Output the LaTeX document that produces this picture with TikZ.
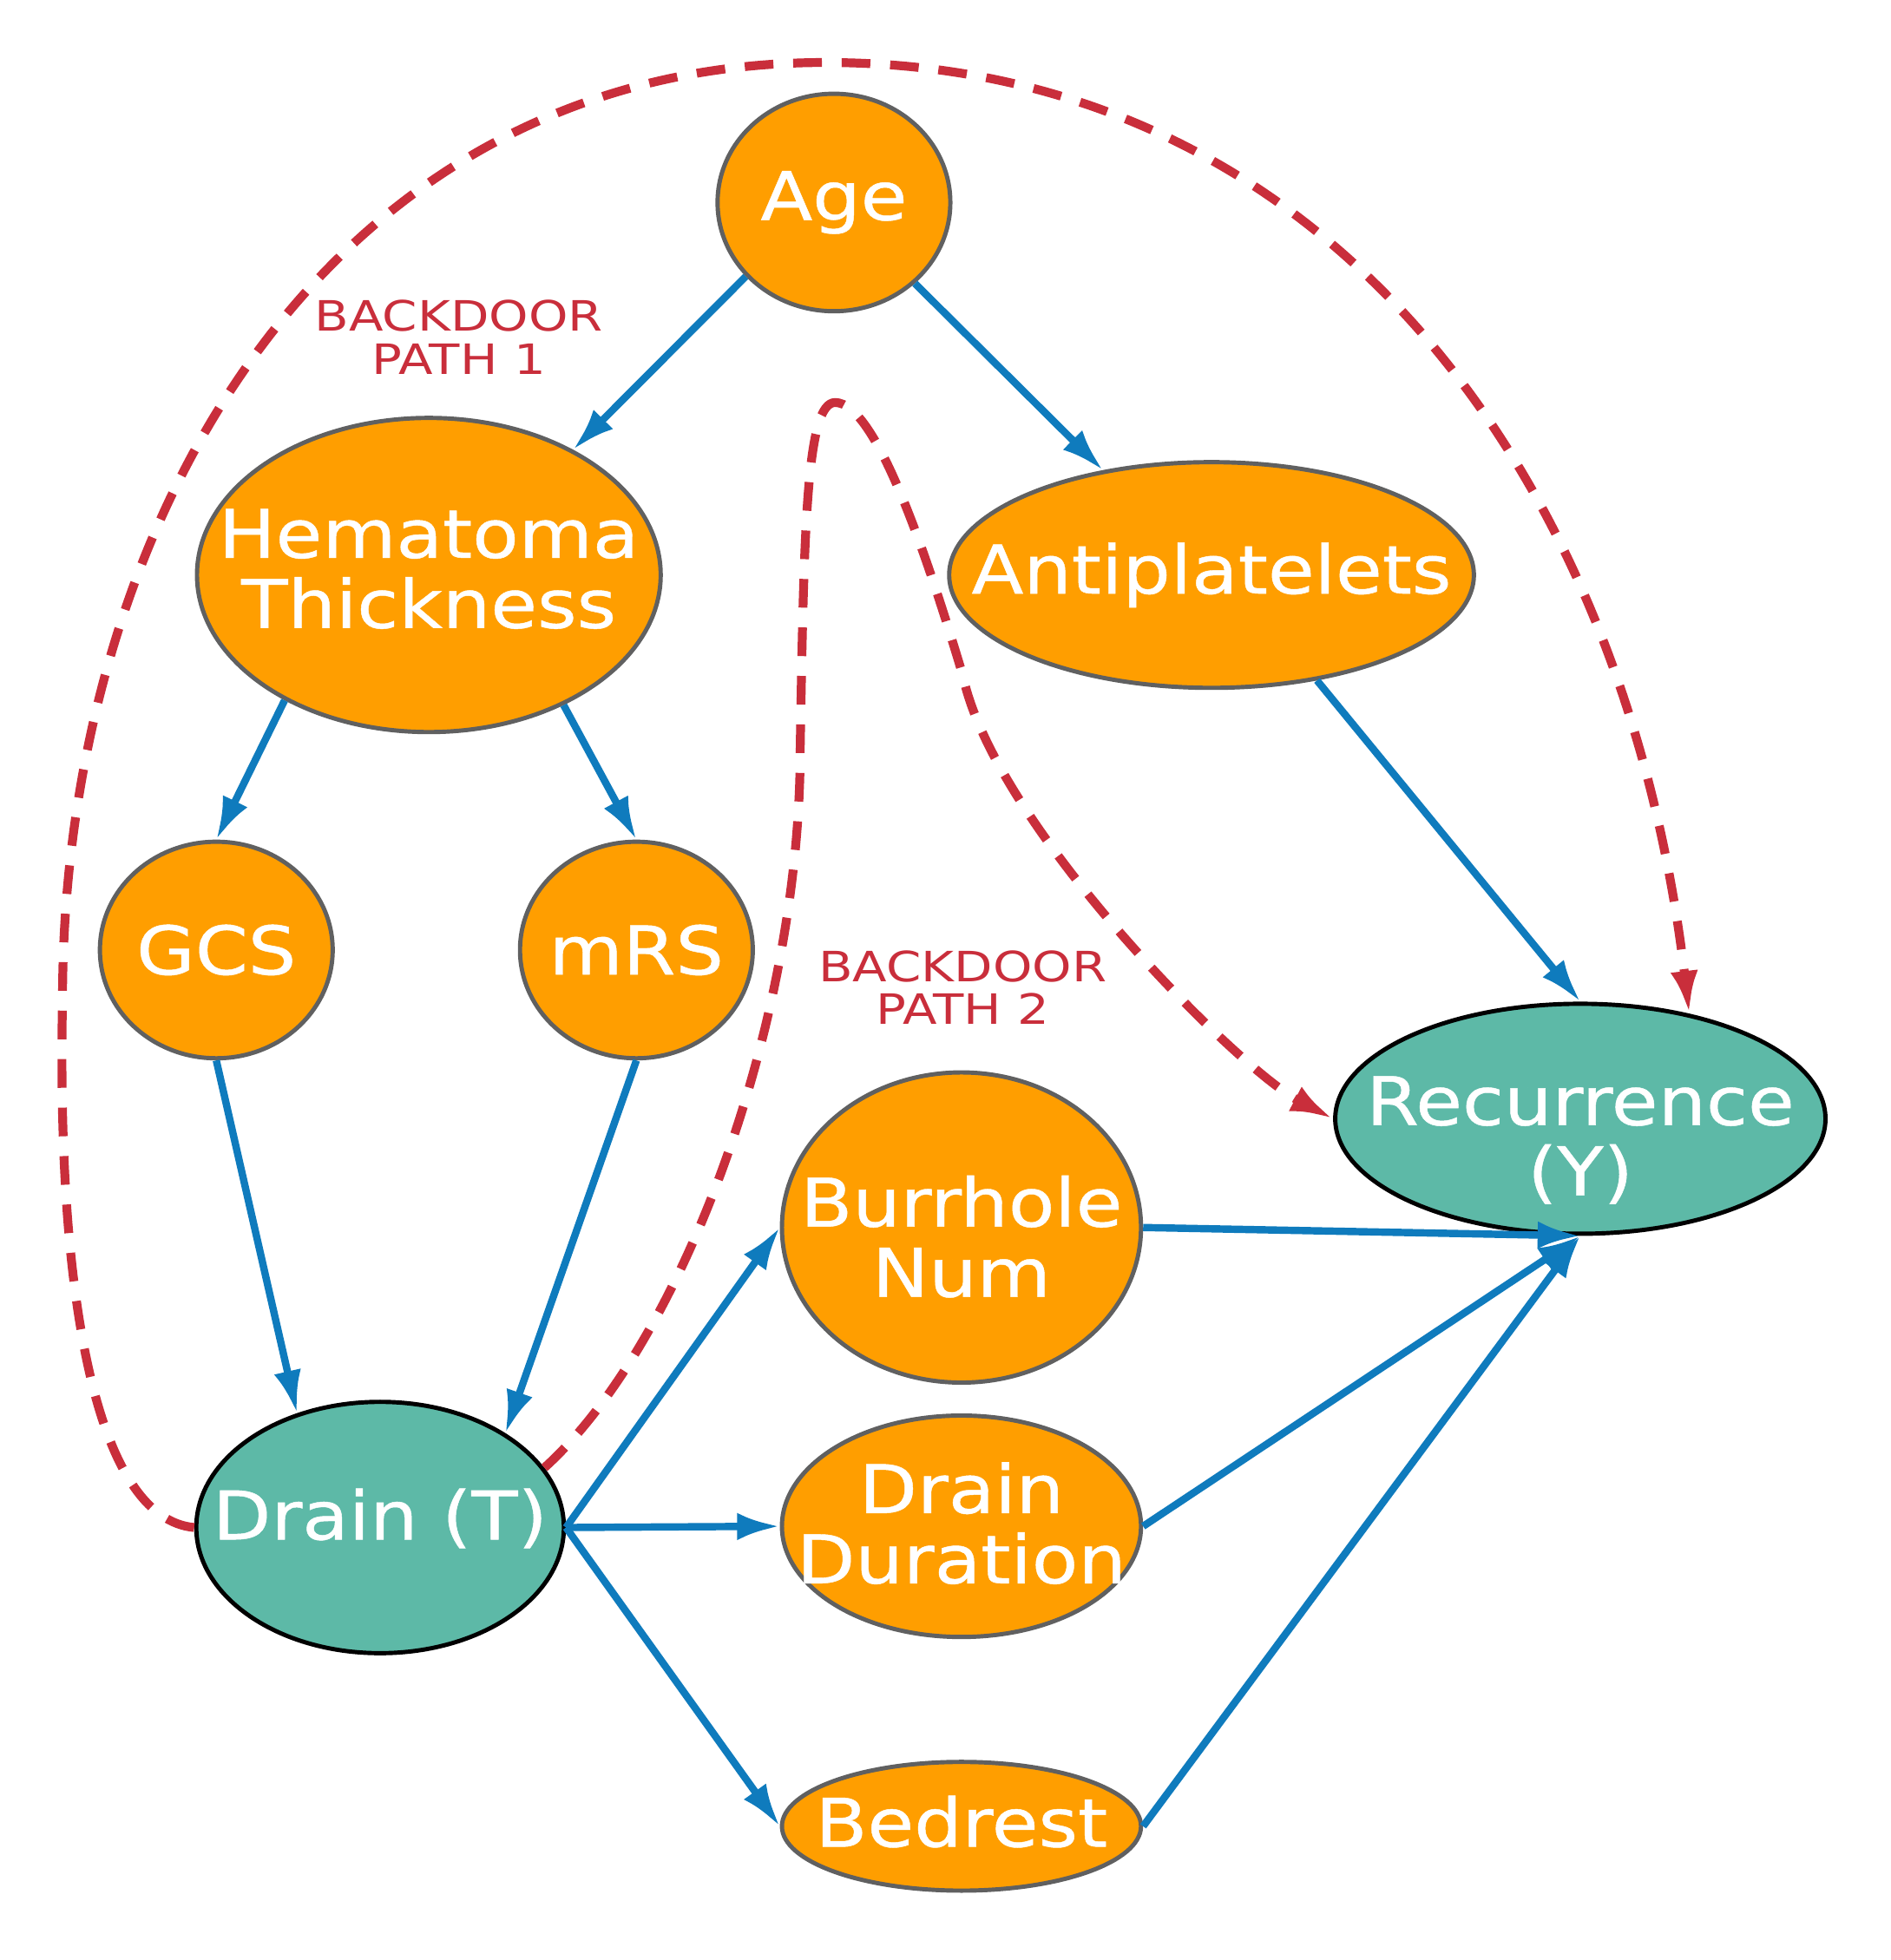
\documentclass[tikz,border=0pt]{standalone}
\usepackage{fontspec}
\usetikzlibrary{shapes.geometric,arrows.meta}
\newfontfamily\nfont[FakeStretch=1.13,FakeBold=0.6]{DejaVu Sans}
\newfontfamily\bfnt[FakeStretch=1.2]{DejaVu Sans}
\definecolor{orng}{HTML}{FF9E00}
\definecolor{tealc}{HTML}{5DB9A7}
\definecolor{blu}{HTML}{0F7BBD}
\definecolor{rd}{HTML}{C92E3B}
\definecolor{gry}{HTML}{606060}
\begin{document}
\begin{tikzpicture}[x=0.01441cm,y=-0.01441cm,
 ov/.style={ellipse, draw=gry, line width=1.4pt, fill=orng, inner sep=0pt},
 tv/.style={ellipse, draw=black, line width=1.4pt, fill=tealc, inner sep=0pt},
 lab/.style={text=white, font=\nfont\fontsize{22}{23}\selectfont, align=center, inner sep=0pt},
 edge/.style={draw=blu, line width=2.4pt, -{Latex[length=14pt,width=9pt]}},
 bd/.style={draw=rd, line width=2.9pt, dash pattern=on 9.4pt off 6.5pt, -{Latex[length=14pt,width=9pt]}},
 bdl/.style={text=rd, font=\bfnt\fontsize{13.7}{14.2}\selectfont, align=center, inner sep=0pt}
]
\fill[white] (0,0) rectangle (1512,1568);
\useasboundingbox (0,0) rectangle (1512,1568);

% nodes
\node[ov, minimum width=76.3pt, minimum height=71.3pt, label={[lab]center:Age}] (age) at (667,162) {};
\node[ov, minimum width=152pt, minimum height=103pt, label={[lab,yshift=2pt]center:{Hematoma\\Thickness}}] (hem) at (343,460) {};
\node[ov, minimum width=172pt, minimum height=74pt, label={[lab]center:Antiplatelets}] (anti) at (969,460) {};
\node[ov, minimum width=76.3pt, minimum height=71pt, label={[lab]center:GCS}] (gcs) at (173,760) {};
\node[ov, minimum width=76.3pt, minimum height=71pt, label={[lab]center:mRS}] (mrs) at (509,760) {};
\node[tv, minimum width=160.7pt, minimum height=75.4pt, label={[lab,yshift=-7pt]center:{Recurrence\\(Y)}}] (rec) at (1264,895) {};
\node[ov, minimum width=117.7pt, minimum height=101.7pt, label={[lab,yshift=-3pt]center:{Burrhole\\Num}}] (burr) at (769,982) {};
\node[tv, minimum width=120.5pt, minimum height=82.4pt, label={[lab,yshift=3pt]center:Drain (T)}] (drain) at (304,1222) {};
\node[ov, minimum width=117.7pt, minimum height=72.6pt, label={[lab,yshift=1pt]center:{Drain\\Duration}}] (dd) at (769,1221) {};
\node[ov, minimum width=117.7pt, minimum height=42.2pt, label={[lab,yshift=1.5pt]center:Bedrest}] (bed) at (769,1461) {};

% backdoor labels
\node[bdl] (bd1) at (367,270) {BACKDOOR\\PATH 1};
\node[bdl] (bd2) at (770,790) {BACKDOOR\\PATH 2};

% causal edges
\draw[edge] (age.220) -- (hem.41);
\draw[edge] (age.-45) -- (anti.136);
\draw[edge] (hem.221.6) -- (gcs.north);
\draw[edge] (hem.-44) -- (mrs.north);
\draw[edge] (gcs.south) -- (drain.126);
\draw[edge] (mrs.south) -- (drain.37);
\draw[edge] (anti.-45) -- (rec.north);
\draw[edge] (drain.east) -- (burr.west);
\draw[edge] (drain.east) -- (dd.west);
\draw[edge] (drain.east) -- (bed.west);
\draw[edge] (burr.east) -- (rec.south);
\draw[edge] (dd.east) -- (rec.south);
\draw[edge] (bed.east) -- (rec.south);

% backdoor paths
\coordinate (pa) at (50,800);
\coordinate (pb) at (660,50);
\coordinate (qa) at (640,600);
\coordinate (qb) at (668,322);
\coordinate (qc) at (770,540);
\draw[bd] (drain.west) .. controls (80,1215) and (45,1050) .. (pa)
  .. controls (50,420) and (260,50) .. (pb)
  .. controls (1060,50) and (1300,380) .. (rec.44);
\draw[bd] (drain.20) .. controls (545,1075) and (640,820) .. (qa)
  .. controls (643,420) and (645,322) .. (qb)
  .. controls (700,322) and (740,440) .. (qc)
  .. controls (795,660) and (990,855) .. (rec.west);
\end{tikzpicture}
\end{document}
